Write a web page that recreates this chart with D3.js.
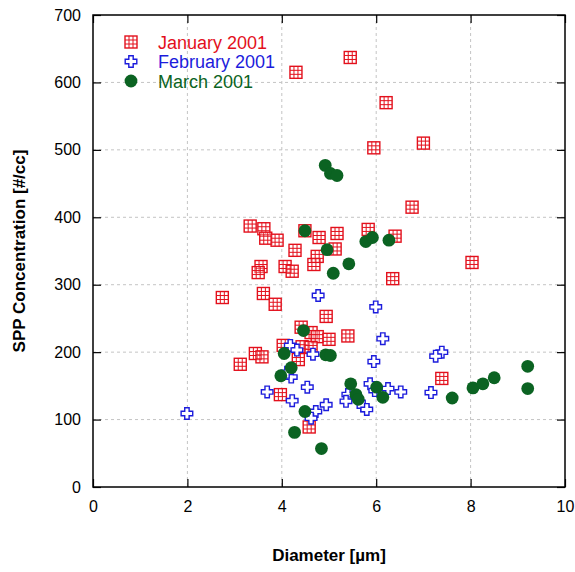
<!DOCTYPE html>
<html><head><meta charset="utf-8">
<script src="https://cdn.jsdelivr.net/npm/d3@7"></script>
<style>body{margin:0;background:#fff}svg{display:block;font-family:"Liberation Sans",Arial,sans-serif}</style>
</head><body><svg id="c" width="575" height="572"></svg>
<script>
const xTicks = [0,2,4,6,8,10];
const yTicks = [0,100,200,300,400,500,600,700];
const seriesNames = ["January 2001","February 2001","March 2001"];
const janX = [4.30,5.45,6.21,5.95,7.00,6.76,8.03,2.74,3.12,3.33,3.62,3.66,3.90,4.28,4.49,4.79,4.75,4.68,3.56,3.50,4.07,4.22,3.61,3.86,5.17,5.13,5.83,6.40,6.35,4.94,4.41,4.62,4.75,5.00,5.40,3.44,3.58,4.03,4.43,4.62,4.35,3.97,4.58,7.39];
const janY = [615,637,570,503,510,415,333,281,182,387,383,369,366,351,380,370,342,330,327,318,327,320,287,271,376,353,382,372,309,253,237,229,223,219,224,198,193,210,208,207,189,137,89,161];
const febX = [1.99,3.69,4.20,4.22,4.54,4.18,4.32,4.66,4.72,4.62,4.94,4.11,4.77,5.99,6.14,5.95,7.39,7.26,7.16,6.52,6.25,5.87,5.97,5.40,5.36,5.72,5.80];
const febY = [109,141,163,128,148,210,203,197,112,102,122,170,284,267,220,186,200,194,140,141,146,153,143,137,127,120,115];
const marX = [4.92,5.03,5.17,4.49,4.96,5.42,5.09,5.78,5.92,6.27,4.46,4.05,4.20,3.98,4.49,4.27,4.84,4.93,5.03,5.46,5.57,5.62,6.01,6.14,7.61,8.05,8.26,8.50,9.21,9.21];
const marY = [477,465,462,380,352,331,317,364,370,366,232,198,177,165,112,81,57,196,195,153,137,130,148,133,132,147,153,162,179,146];

(function(){
const RED="#e3101c", BLUE="#1c1cdc", GREEN="#0b6322";
const svg = d3.select("#c");
const L=93, R=565, T=15, B=487;
const x = d3.scaleLinear().domain([0,10]).range([L,R]);
const y = d3.scaleLinear().domain([0,700]).range([B,T]);

const g = svg.append("g");
g.selectAll(".gx").data(xTicks.slice(1,-1)).join("line")
 .attr("x1",d=>x(d)).attr("x2",d=>x(d)).attr("y1",T).attr("y2",B)
 .attr("stroke","#c4c4c4").attr("stroke-dasharray","3,3");
g.selectAll(".gy").data(yTicks.slice(1,-1)).join("line")
 .attr("y1",d=>y(d)).attr("y2",d=>y(d)).attr("x1",L).attr("x2",R)
 .attr("stroke","#c4c4c4").attr("stroke-dasharray","3,3");

const fmt = d3.format("d");
const ax = (a,sel)=>sel.call(a).call(s=>s.select(".domain").remove()).call(s=>s.selectAll("line").attr("stroke","#000").attr("stroke-width",1.2));
const axB = svg.append("g").attr("transform",`translate(0,${B})`);
ax(d3.axisBottom(x).tickValues(xTicks).tickFormat(fmt).tickSizeInner(-8).tickPadding(14), axB);
axB.selectAll("text").attr("font-size",16).attr("fill","#000").attr("font-family","Liberation Sans, Arial, sans-serif");
const axT = svg.append("g").attr("transform",`translate(0,${T})`);
ax(d3.axisTop(x).tickValues(xTicks).tickFormat("").tickSizeInner(-8), axT);
const axL = svg.append("g").attr("transform",`translate(${L},0)`);
ax(d3.axisLeft(y).tickValues(yTicks).tickFormat(fmt).tickSizeInner(-8).tickPadding(12), axL);
axL.selectAll("text").attr("font-size",16).attr("fill","#000").attr("font-family","Liberation Sans, Arial, sans-serif");
const axR = svg.append("g").attr("transform",`translate(${R},0)`);
ax(d3.axisRight(y).tickValues(yTicks).tickFormat("").tickSizeInner(-8), axR);
svg.append("rect").attr("x",L).attr("y",T).attr("width",R-L).attr("height",B-T)
 .attr("fill","none").attr("stroke","#000").attr("stroke-width",1.5);

function sq(sel, s){
  const h=s/2;
  sel.append("rect").attr("x",-h).attr("y",-h).attr("width",s).attr("height",s)
    .attr("fill","rgba(255,255,255,0.35)").attr("stroke",RED).attr("stroke-width",1.4);
  sel.append("path").attr("d",`M${-h/3},${-h}V${h}M${h/3},${-h}V${h}M${-h},${-h/3}H${h}M${-h},${h/3}H${h}`)
    .attr("stroke",RED).attr("stroke-width",1).attr("fill","none");
}
const crossPath = (a,b)=>`M${-b},${-a}H${b}V${-b}H${a}V${b}H${b}V${a}H${-b}V${b}H${-a}V${-b}H${-b}Z`;
function cr(sel){
  sel.append("path").attr("d",crossPath(5.8,2.2)).attr("fill","#fff").attr("stroke",BLUE).attr("stroke-width",1.4);
}
function ci(sel){
  sel.append("circle").attr("r",6.4).attr("fill",GREEN);
}
const janD = janX.map((v,i)=>[v,janY[i]]);
const febD = febX.map((v,i)=>[v,febY[i]]);
const marD = marX.map((v,i)=>[v,marY[i]]);
svg.append("g").selectAll("g").data(janD).join("g")
  .attr("transform",d=>`translate(${x(d[0])},${y(d[1])})`).each(function(){sq(d3.select(this),12);});
svg.append("g").selectAll("g").data(febD).join("g")
  .attr("transform",d=>`translate(${x(d[0])},${y(d[1])})`).each(function(){cr(d3.select(this));});
svg.append("g").selectAll("g").data(marD).join("g")
  .attr("transform",d=>`translate(${x(d[0])},${y(d[1])})`).each(function(){ci(d3.select(this));});

const lg = svg.append("g");
const cols=[RED,BLUE,GREEN];
const mk=[s=>sq(s,12),cr,ci];
seriesNames.forEach((n,i)=>{
  const yy = 42 + i*19.5;
  const m = lg.append("g").attr("transform",`translate(131,${yy})`);
  mk[i](m);
  lg.append("text").attr("x",158).attr("y",yy+6.5).attr("font-size",18).attr("fill",cols[i]).text(n);
});

svg.append("text").attr("x",329).attr("y",561).attr("text-anchor","middle")
  .attr("font-size",17).attr("font-weight","bold").text("Diameter [µm]");
svg.append("text").attr("transform","translate(25,251) rotate(-90)").attr("text-anchor","middle")
  .attr("font-size",17).attr("font-weight","bold").text("SPP Concentration [#/cc]");
})();
</script></body></html>
